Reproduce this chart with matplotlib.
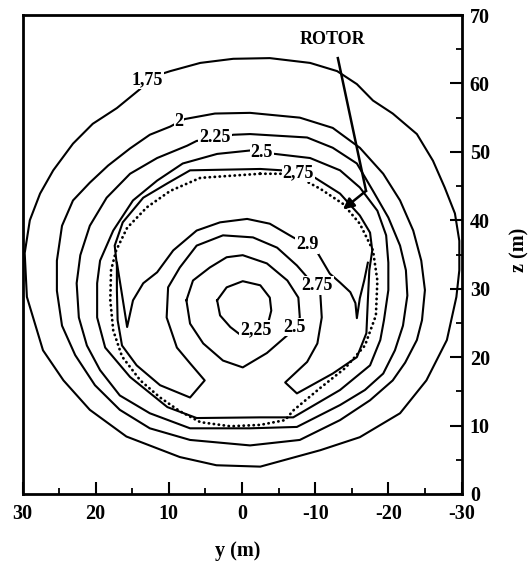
import numpy as np
import matplotlib
matplotlib.use("Agg")
import matplotlib.pyplot as plt
from matplotlib.ticker import MultipleLocator

plt.rcParams['font.family'] = ['Liberation Serif', 'DejaVu Serif']
plt.rcParams['font.weight'] = 'bold'
plt.rcParams['axes.unicode_minus'] = False

# ---- isolines of the induced field, (y, z) in metres ----
c175_y = [13.0, 9.8, 5.7, 1.2, -3.8, -9.3, -13.0, -15.7, -17.9, -20.6, -23.9, -26.1, -27.7,
          -29.1, -29.7, -29.7, -29.3, -28.0, -25.2, -21.6, -16.1, -10.7, -2.5, 3.5, 8.5,
          15.8, 20.8, 24.4, 27.2, 29.4, 29.7, 29.0, 27.6, 25.8, 23.1, 20.4, 17.1, 13.9]
c175_z = [60.7, 61.8, 63.0, 63.6, 63.7, 63.0, 61.8, 59.9, 57.5, 55.6, 52.6, 48.7, 44.8,
          41.0, 37.0, 32.7, 28.8, 22.5, 16.6, 11.8, 8.3, 6.4, 4.0, 4.2, 5.4,
          8.4, 12.3, 16.6, 21.0, 28.8, 35.2, 40.0, 43.9, 47.3, 51.2, 54.1, 56.4, 59.2]

c200_y = [8.6, 7.8, 3.7, -1.1, -7.9, -12.4, -16.1, -19.3, -21.6, -23.4, -24.5, -25.0, -24.6,
          -23.9, -22.3, -20.6, -17.5, -13.4, -7.9, -1.1, 7.1, 12.6, 16.7, 20.1, 22.8, 24.6,
          25.3, 25.3, 24.6, 23.1, 20.8, 18.3, 15.3, 12.6, 9.8]
c200_z = [54.4, 54.8, 55.6, 55.7, 55.0, 53.5, 50.6, 46.8, 42.9, 38.5, 34.1, 29.8, 25.4,
          22.5, 19.2, 16.6, 13.7, 10.8, 7.9, 7.1, 7.9, 9.6, 12.3, 15.9, 20.3, 24.6,
          29.7, 34.1, 39.2, 42.9, 45.5, 48.0, 50.5, 52.5, 53.7]

c225_y = [3.7, 1.2, -1.1, -8.9, -12.4, -15.7, -17.9, -20.0, -21.6, -22.4, -22.6, -22.0, -20.9,
          -19.3, -16.8, -13.4, -7.5, -1.1, 7.1, 12.6, 16.7, 19.4, 21.2, 22.3, 22.6, 22.1,
          20.8, 18.5, 15.3, 11.6, 7.5, 6.2]
c225_z = [51.9, 52.5, 52.6, 52.1, 50.6, 48.3, 44.3, 40.4, 36.3, 32.7, 29.0, 24.6, 21.0,
          17.6, 15.2, 13.0, 9.8, 9.6, 9.6, 11.8, 14.4, 18.1, 21.7, 25.8, 30.8, 34.9,
          39.2, 43.3, 46.8, 49.1, 50.9, 51.6]

c250_y = [-2.6, -4.5, -9.3, -13.4, -16.1, -18.5, -19.7, -20.0, -20.0, -19.4, -18.9, -17.5,
          -13.4, -7.0, -2.5, 6.2, 10.2, 15.3, 18.7, 19.8, 19.8, 19.4, 17.6, 14.9, 11.6,
          8.1, 3.4, -1.1]
c250_z = [49.9, 49.7, 49.1, 47.3, 44.8, 41.4, 37.8, 33.8, 29.8, 25.4, 22.5, 18.8,
          15.2, 11.2, 11.2, 11.1, 12.7, 17.1, 21.4, 25.8, 30.8, 34.1, 38.5, 42.9, 45.8,
          48.3, 49.7, 50.2]

# 2.75 isoline: outside the rotor at the top, horseshoe inside it below
c275_y = [-7.7, -5.5, -2.5, 7.1, 10.2, 13.5, 16.3, 17.4, 17.1, 17.1, 17.0, 16.4, 14.4,
          11.2, 7.1, 5.1, 7.1, 8.9, 10.3, 10.1, 8.5, 6.2, 2.6, -1.5, -4.8, -7.5, -9.3,
          -10.7, -10.9, -10.3, -8.9, -5.9, -7.5, -12.4, -15.7, -17.0, -17.2, -17.4,
          -17.8, -17.5, -16.1, -13.4, -10.0]
c275_z = [47.0, 47.3, 47.5, 47.3, 45.4, 43.3, 39.7, 36.3, 33.4, 29.8, 25.4, 21.7, 18.8,
          15.9, 14.1, 16.6, 19.1, 21.4, 25.8, 30.2, 33.1, 36.3, 37.8, 37.5, 36.0, 33.4, 31.2,
          29.3, 25.8, 22.0, 19.3, 16.3, 14.7, 17.6, 20.0, 23.5, 28.3, 32.7,
          35.6, 38.2, 40.7, 43.9, 46.2]

# inner arc with its two downward spikes
arc_y = [17.1, 16.5, 15.7, 14.9, 13.5, 11.6, 9.4, 6.2, 3.0, -0.7, -3.8, -7.0, -8.9, -10.3,
         -12.0, -13.4, -14.8, -15.5, -15.7, -16.1, -16.7, -17.2]
arc_z = [33.8, 29.8, 24.4, 28.3, 30.8, 32.4, 35.6, 38.5, 39.7, 40.2, 39.5, 37.5, 36.5, 35.3,
         32.2, 30.9, 29.5, 27.9, 25.7, 28.6, 31.2, 33.8]

core250_y = [7.6, 6.7, 4.4, 2.1, -0.1, -3.4, -6.2, -7.7, -7.9, -7.1, -6.2, -3.4, -0.1, 2.6, 5.3, 7.1]
core250_z = [28.3, 31.2, 33.1, 34.6, 34.9, 33.7, 31.2, 28.7, 25.8, 24.4, 23.2, 20.6, 18.5, 19.5, 22.0, 24.9]

core225_y = [3.4, 2.1, -0.1, -2.5, -3.8, -4.0, -3.6, -1.8, -0.1, 1.6, 3.0]
core225_z = [28.3, 30.2, 31.1, 30.5, 28.7, 26.8, 25.1, 23.9, 23.0, 24.4, 26.1]

# rotor disc outline
rotor_y = [-2.5, -5.6, -7.9, -10.7, -13.8, -16.1, -17.9, -18.5, -18.3, -16.8, -14.1, -10.7,
           -7.0, -5.9, -2.5, 1.6, 5.7, 8.5, 11.2, 13.9, 16.4, 17.6, 18.0, 17.9, 17.2, 15.7,
           13.0, 9.8, 5.7]
rotor_z = [46.8, 46.8, 46.2, 44.6, 42.4, 39.5, 35.6, 31.2, 26.1, 21.7, 18.4, 15.5,
           12.2, 10.8, 10.1, 9.9, 10.5, 12.1, 14.1, 16.6, 20.1, 23.9, 28.3, 32.7, 35.6, 38.9,
           41.9, 44.3, 46.2]

# isoline labels
label_text = ["1,75", "2", "2.25", "2.5", "2,75", "2.9", "2.75", "2,25", "2.5"]
label_y = [12.9, 8.6, 3.7, -2.7, -7.7, -8.9, -10.3, -1.85, -7.2]
label_z = [60.6, 54.4, 52.1, 49.9, 46.9, 36.5, 30.5, 24.0, 24.4]

# rotor call-out
rotor_text_pos = (-12.3, 66.4)
rotor_arrow_y = [-13.1, -16.95, -13.8]
rotor_arrow_z = [63.7, 44.3, 41.6]

x_ticks = [30, 20, 10, 0, -10, -20, -30]
x_ticklabels = ["30", "20", "10", "0", "-10", "-20", "-30"]
z_ticks = [0, 10, 20, 30, 40, 50, 60, 70]
z_ticklabels = ["0", "10", "20", "30", "40", "50", "60", "70"]


def closed(a):
    return np.append(a, a[0])


fig = plt.figure(figsize=(5.32, 5.62), dpi=100)
ax = fig.add_axes([0.0423, 0.121, 0.8252, 0.8523])

lw = 1.5
for ys, zs in [(c175_y, c175_z), (c200_y, c200_z), (c225_y, c225_z), (c250_y, c250_z),
               (c275_y, c275_z), (core250_y, core250_z), (core225_y, core225_z)]:
    ax.plot(closed(ys), closed(zs), color='black', lw=lw, solid_joinstyle='round', zorder=2)
ax.plot(arc_y, arc_z, color='black', lw=lw, solid_joinstyle='round', zorder=2)
ax.plot(closed(rotor_y), closed(rotor_z), color='black', lw=2.0,
        linestyle=(0, (0.1, 1.7)), dash_capstyle='round', zorder=2)

for t, y, z in zip(label_text, label_y, label_z):
    ax.text(y, z, t, fontsize=13, fontweight='bold', ha='center', va='center', zorder=4,
            bbox=dict(boxstyle='square,pad=0.05', fc='white', ec='none'))

ax.text(rotor_text_pos[0], rotor_text_pos[1], "ROTOR", fontsize=13, fontweight='bold',
        ha='center', va='center', zorder=4)
ax.plot(rotor_arrow_y[:2], rotor_arrow_z[:2], color='black', lw=1.8, zorder=3)
ax.annotate('', xy=(rotor_arrow_y[2], rotor_arrow_z[2]),
            xytext=(rotor_arrow_y[1], rotor_arrow_z[1]),
            arrowprops=dict(arrowstyle='-|>', color='black', lw=1.8,
                            mutation_scale=16, shrinkA=0, shrinkB=0), zorder=3)

ax.set_xlim(30, -30)
ax.set_ylim(0, 70)

ax.yaxis.tick_right()
ax.set_xticks(x_ticks)
ax.set_xticklabels(x_ticklabels)
ax.set_yticks(z_ticks)
ax.set_yticklabels(z_ticklabels)
ax.xaxis.set_minor_locator(MultipleLocator(5))
ax.yaxis.set_minor_locator(MultipleLocator(5))
ax.tick_params(axis='both', which='major', direction='in', length=8.5, width=1.5,
               labelsize=14.5, colors='black')
ax.tick_params(axis='both', which='minor', direction='in', length=4.5, width=1.3)
ax.tick_params(axis='x', which='both', top=False, bottom=True, pad=7)
ax.tick_params(axis='y', which='both', left=False, right=True, labelleft=False,
               labelright=True, pad=6)
for lab in ax.get_xticklabels() + ax.get_yticklabels():
    lab.set_fontweight('bold')
for sp in ax.spines.values():
    sp.set_linewidth(2.0)

ax.set_xlabel("y (m)", fontsize=14.5, fontweight='bold')
ax.xaxis.label.set_va('center')
ax.xaxis.label.set_ha('center')
ax.xaxis.set_label_coords(0.491, -0.119)
ax.yaxis.set_label_position('right')
ax.set_ylabel("z (m)", fontsize=14.5, fontweight='bold', rotation=90)
ax.yaxis.label.set_va('center')
ax.yaxis.label.set_ha('center')
ax.yaxis.set_label_coords(1.131, 0.509)

fig.savefig("out.png", dpi=100)
